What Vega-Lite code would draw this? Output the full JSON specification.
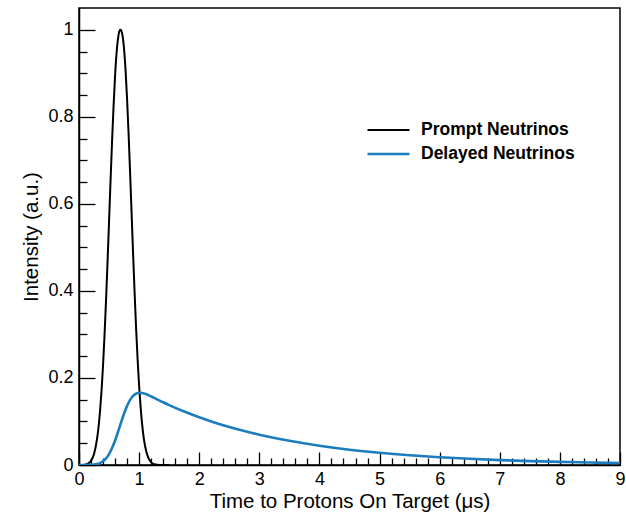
{
  "$schema": "https://vega.github.io/schema/vega-lite/v6.json",
  "width": 541,
  "height": 457,
  "autosize": {"type": "none"},
  "padding": {"left": 79, "top": 8, "right": 5, "bottom": 47},
  "background": "white",
  "config": {
    "font": "Liberation Sans",
    "view": {"stroke": "black", "strokeWidth": 1.5},
    "axis": {
      "grid": false,
      "domainColor": "black",
      "domainWidth": 1.5,
      "tickColor": "black",
      "tickWidth": 1.3,
      "labelColor": "black",
      "titleColor": "black",
      "labelFont": "Liberation Sans",
      "titleFont": "Liberation Sans",
      "labelFontSize": 18,
      "titleFontSize": 20.5,
      "titleFontWeight": "normal"
    }
  },
  "data": {
    "values": [
      {"series": "Prompt Neutrinos", "x": 0, "y": 0.0001},
      {"series": "Prompt Neutrinos", "x": 0.05, "y": 0.0002},
      {"series": "Prompt Neutrinos", "x": 0.1, "y": 0.0009},
      {"series": "Prompt Neutrinos", "x": 0.15, "y": 0.0031},
      {"series": "Prompt Neutrinos", "x": 0.2, "y": 0.0095},
      {"series": "Prompt Neutrinos", "x": 0.25, "y": 0.0252},
      {"series": "Prompt Neutrinos", "x": 0.3, "y": 0.06},
      {"series": "Prompt Neutrinos", "x": 0.325, "y": 0.087},
      {"series": "Prompt Neutrinos", "x": 0.35, "y": 0.124},
      {"series": "Prompt Neutrinos", "x": 0.375, "y": 0.171},
      {"series": "Prompt Neutrinos", "x": 0.4, "y": 0.229},
      {"series": "Prompt Neutrinos", "x": 0.425, "y": 0.299},
      {"series": "Prompt Neutrinos", "x": 0.45, "y": 0.379},
      {"series": "Prompt Neutrinos", "x": 0.475, "y": 0.467},
      {"series": "Prompt Neutrinos", "x": 0.5, "y": 0.56},
      {"series": "Prompt Neutrinos", "x": 0.525, "y": 0.654},
      {"series": "Prompt Neutrinos", "x": 0.55, "y": 0.744},
      {"series": "Prompt Neutrinos", "x": 0.575, "y": 0.825},
      {"series": "Prompt Neutrinos", "x": 0.6, "y": 0.894},
      {"series": "Prompt Neutrinos", "x": 0.625, "y": 0.947},
      {"series": "Prompt Neutrinos", "x": 0.65, "y": 0.981},
      {"series": "Prompt Neutrinos", "x": 0.675, "y": 0.998},
      {"series": "Prompt Neutrinos", "x": 0.69, "y": 1.0},
      {"series": "Prompt Neutrinos", "x": 0.7, "y": 0.999},
      {"series": "Prompt Neutrinos", "x": 0.725, "y": 0.986},
      {"series": "Prompt Neutrinos", "x": 0.75, "y": 0.955},
      {"series": "Prompt Neutrinos", "x": 0.775, "y": 0.906},
      {"series": "Prompt Neutrinos", "x": 0.8, "y": 0.84},
      {"series": "Prompt Neutrinos", "x": 0.825, "y": 0.761},
      {"series": "Prompt Neutrinos", "x": 0.85, "y": 0.672},
      {"series": "Prompt Neutrinos", "x": 0.875, "y": 0.579},
      {"series": "Prompt Neutrinos", "x": 0.9, "y": 0.485},
      {"series": "Prompt Neutrinos", "x": 0.925, "y": 0.396},
      {"series": "Prompt Neutrinos", "x": 0.95, "y": 0.314},
      {"series": "Prompt Neutrinos", "x": 0.975, "y": 0.243},
      {"series": "Prompt Neutrinos", "x": 1.0, "y": 0.182},
      {"series": "Prompt Neutrinos", "x": 1.025, "y": 0.133},
      {"series": "Prompt Neutrinos", "x": 1.05, "y": 0.094},
      {"series": "Prompt Neutrinos", "x": 1.075, "y": 0.064},
      {"series": "Prompt Neutrinos", "x": 1.1, "y": 0.043},
      {"series": "Prompt Neutrinos", "x": 1.15, "y": 0.0173},
      {"series": "Prompt Neutrinos", "x": 1.2, "y": 0.0062},
      {"series": "Prompt Neutrinos", "x": 1.25, "y": 0.0019},
      {"series": "Prompt Neutrinos", "x": 1.3, "y": 0.0005},
      {"series": "Prompt Neutrinos", "x": 1.4, "y": 0.0},
      {"series": "Prompt Neutrinos", "x": 1.5, "y": 0.0},
      {"series": "Delayed Neutrinos", "x": 0, "y": 0.0},
      {"series": "Delayed Neutrinos", "x": 0.1, "y": 0.00005},
      {"series": "Delayed Neutrinos", "x": 0.2, "y": 0.0004},
      {"series": "Delayed Neutrinos", "x": 0.3, "y": 0.0021},
      {"series": "Delayed Neutrinos", "x": 0.35, "y": 0.0044},
      {"series": "Delayed Neutrinos", "x": 0.4, "y": 0.0085},
      {"series": "Delayed Neutrinos", "x": 0.45, "y": 0.0151},
      {"series": "Delayed Neutrinos", "x": 0.5, "y": 0.0252},
      {"series": "Delayed Neutrinos", "x": 0.55, "y": 0.039},
      {"series": "Delayed Neutrinos", "x": 0.6, "y": 0.0564},
      {"series": "Delayed Neutrinos", "x": 0.65, "y": 0.0765},
      {"series": "Delayed Neutrinos", "x": 0.7, "y": 0.0979},
      {"series": "Delayed Neutrinos", "x": 0.75, "y": 0.1182},
      {"series": "Delayed Neutrinos", "x": 0.8, "y": 0.1358},
      {"series": "Delayed Neutrinos", "x": 0.85, "y": 0.1496},
      {"series": "Delayed Neutrinos", "x": 0.9, "y": 0.1586},
      {"series": "Delayed Neutrinos", "x": 0.95, "y": 0.1639},
      {"series": "Delayed Neutrinos", "x": 1.0, "y": 0.1659},
      {"series": "Delayed Neutrinos", "x": 1.05, "y": 0.1655},
      {"series": "Delayed Neutrinos", "x": 1.1, "y": 0.1635},
      {"series": "Delayed Neutrinos", "x": 1.2, "y": 0.1575},
      {"series": "Delayed Neutrinos", "x": 1.3, "y": 0.1508},
      {"series": "Delayed Neutrinos", "x": 1.4, "y": 0.1441},
      {"series": "Delayed Neutrinos", "x": 1.5, "y": 0.1377},
      {"series": "Delayed Neutrinos", "x": 1.75, "y": 0.1229},
      {"series": "Delayed Neutrinos", "x": 2.0, "y": 0.1097},
      {"series": "Delayed Neutrinos", "x": 2.25, "y": 0.0979},
      {"series": "Delayed Neutrinos", "x": 2.5, "y": 0.0874},
      {"series": "Delayed Neutrinos", "x": 2.75, "y": 0.078},
      {"series": "Delayed Neutrinos", "x": 3.0, "y": 0.0696},
      {"series": "Delayed Neutrinos", "x": 3.5, "y": 0.0555},
      {"series": "Delayed Neutrinos", "x": 4.0, "y": 0.0442},
      {"series": "Delayed Neutrinos", "x": 4.5, "y": 0.0352},
      {"series": "Delayed Neutrinos", "x": 5.0, "y": 0.0281},
      {"series": "Delayed Neutrinos", "x": 5.5, "y": 0.0224},
      {"series": "Delayed Neutrinos", "x": 6.0, "y": 0.0178},
      {"series": "Delayed Neutrinos", "x": 6.5, "y": 0.0142},
      {"series": "Delayed Neutrinos", "x": 7.0, "y": 0.0113},
      {"series": "Delayed Neutrinos", "x": 7.5, "y": 0.009},
      {"series": "Delayed Neutrinos", "x": 8.0, "y": 0.0072},
      {"series": "Delayed Neutrinos", "x": 8.5, "y": 0.0057},
      {"series": "Delayed Neutrinos", "x": 9.0, "y": 0.0046}
    ]
  },
  "mark": {"type": "line", "interpolate": "monotone", "clip": true},
  "encoding": {
    "x": {
      "field": "x",
      "type": "quantitative",
      "scale": {"domain": [0, 9], "nice": false, "zero": false},
      "axis": {
        "title": "Time to Protons On Target (μs)",
        "values": [0, 0.2, 0.4, 0.6, 0.8, 1, 1.2, 1.4, 1.6, 1.8, 2, 2.2, 2.4, 2.6, 2.8, 3, 3.2, 3.4, 3.6, 3.8, 4, 4.2, 4.4, 4.6, 4.8, 5, 5.2, 5.4, 5.6, 5.8, 6, 6.2, 6.4, 6.6, 6.8, 7, 7.2, 7.4, 7.6, 7.8, 8, 8.2, 8.4, 8.6, 8.8, 9],
        "labelExpr": "datum.value % 1 === 0 ? format(datum.value, 'd') : ''",
        "tickSize": {"condition": {"test": "datum.value % 1 === 0", "value": -13}, "value": -7},
        "labelPadding": 18,
        "labelFlush": false,
        "labelOverlap": false,
        "titleBaseline": "alphabetic",
        "titleY": 42.5
      }
    },
    "y": {
      "field": "y",
      "type": "quantitative",
      "scale": {"domain": [0, 1.05], "nice": false, "zero": true},
      "axis": {
        "title": "Intensity (a.u.)",
        "values": [0, 0.05, 0.1, 0.15, 0.2, 0.25, 0.3, 0.35, 0.4, 0.45, 0.5, 0.55, 0.6, 0.65, 0.7, 0.75, 0.8, 0.85, 0.9, 0.95, 1],
        "labelExpr": "abs(datum.value * 5 - round(datum.value * 5)) < 0.001 ? format(datum.value, '~g') : ''",
        "tickSize": {"condition": {"test": "abs(datum.value * 5 - round(datum.value * 5)) < 0.001", "value": -16}, "value": -8},
        "labelPadding": 22,
        "labelFlush": false,
        "labelOverlap": false,
        "titleBaseline": "alphabetic",
        "titleX": -42
      }
    },
    "color": {
      "field": "series",
      "type": "nominal",
      "scale": {"domain": ["Prompt Neutrinos", "Delayed Neutrinos"], "range": ["#000000", "#1b7dbf"]},
      "legend": {
        "orient": "none",
        "legendX": 287,
        "legendY": 110,
        "title": null,
        "symbolType": "stroke",
        "symbolSize": 1764,
        "symbolStrokeWidth": 2,
        "labelFont": "Liberation Sans",
        "labelFontSize": 17.5,
        "labelFontWeight": "bold",
        "labelColor": "black",
        "labelOffset": 10,
        "clipHeight": 24,
        "rowPadding": 0,
        "padding": 0
      }
    },
    "strokeWidth": {
      "field": "series",
      "type": "nominal",
      "scale": {"domain": ["Prompt Neutrinos", "Delayed Neutrinos"], "range": [2, 2.6]},
      "legend": null
    }
  }
}
